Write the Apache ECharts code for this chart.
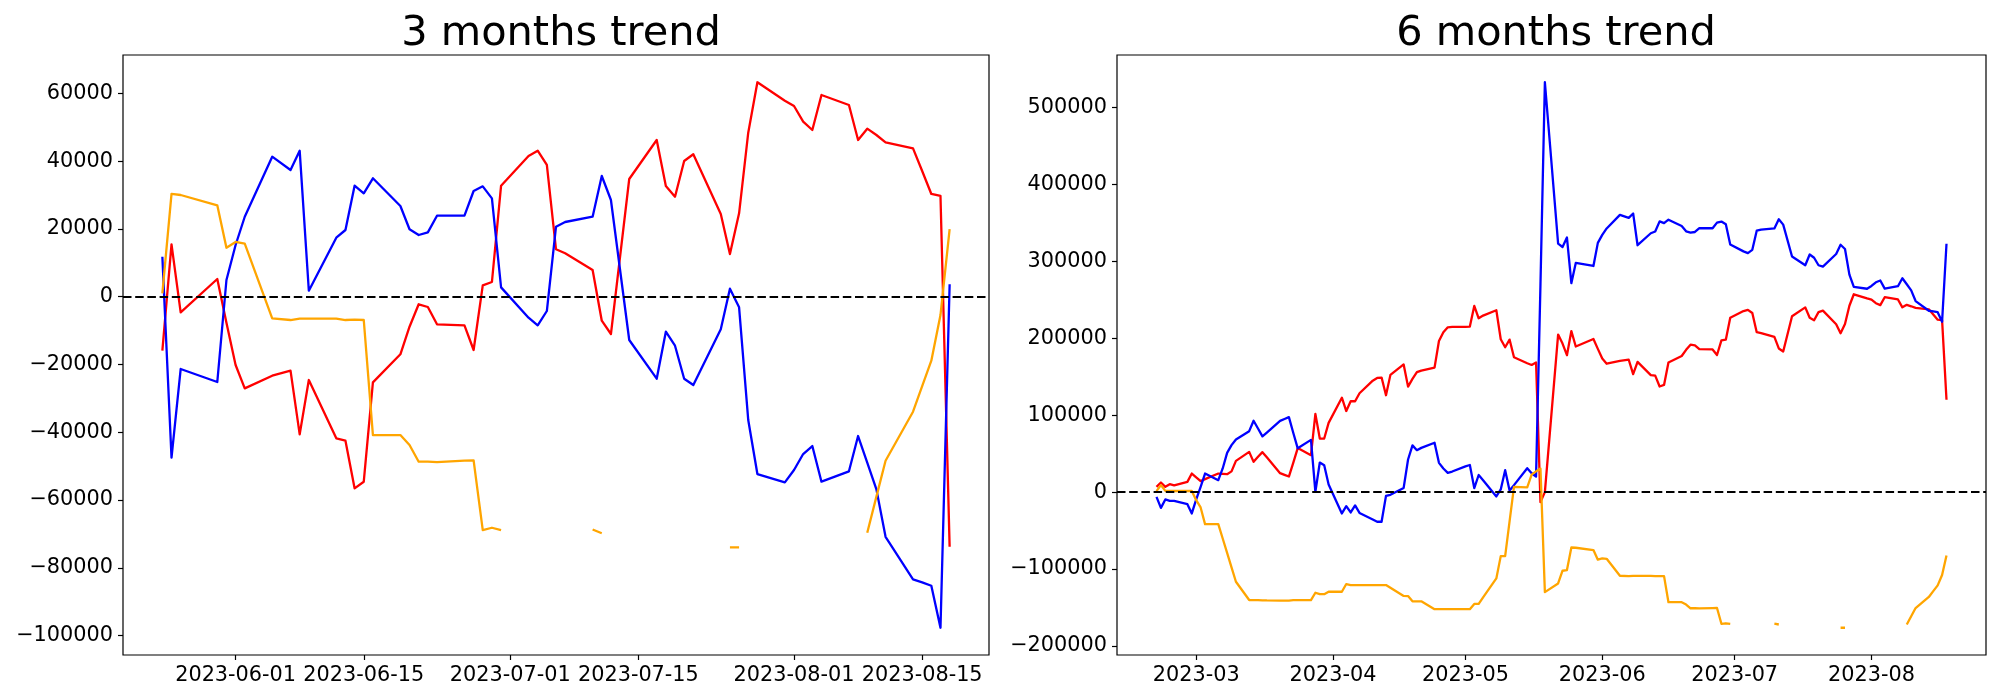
<!DOCTYPE html>
<html><head><meta charset="utf-8">
<script src="https://cdn.jsdelivr.net/npm/echarts@6/dist/echarts.min.js"></script>
<style>html,body{margin:0;padding:0;background:#fff}#c{width:2000px;height:700px}</style>
</head><body><div id="c"></div>
<script>
// ---------- 3 months trend ----------
const dates3 = ['2023-05-24','2023-05-25','2023-05-26','2023-05-30','2023-05-31','2023-06-01','2023-06-02',
 '2023-06-05','2023-06-07','2023-06-08','2023-06-09','2023-06-12','2023-06-13','2023-06-14','2023-06-15','2023-06-16',
 '2023-06-19','2023-06-20','2023-06-21','2023-06-22','2023-06-23','2023-06-26','2023-06-27','2023-06-28','2023-06-29','2023-06-30',
 '2023-07-03','2023-07-04','2023-07-05','2023-07-06','2023-07-07','2023-07-10','2023-07-11','2023-07-12','2023-07-14',
 '2023-07-17','2023-07-18','2023-07-19','2023-07-20','2023-07-21','2023-07-24','2023-07-25','2023-07-26','2023-07-27','2023-07-28',
 '2023-07-31','2023-08-01','2023-08-02','2023-08-03','2023-08-04','2023-08-07','2023-08-08','2023-08-09','2023-08-10','2023-08-11',
 '2023-08-14','2023-08-15','2023-08-16','2023-08-17','2023-08-18'];
const red3 = [-15940,15460,-4610,5220,-7670,-20160,-27050,
 -23320,-21840,-40620,-24590,-41800,-42510,-56560,-54600,-25270,
 -17000,-8860,-2240,-3040,-8150,-8440,-15730,3360,4340,32770,
 41530,43100,38880,13990,12810,7880,-7080,-11010,34740,
 46260,32680,29520,40060,42040,24410,12600,24620,48410,63290,
 57860,56290,51660,49210,59540,56590,46260,49600,47730,45560,
 43790,37100,30320,29730,-73800];
const blue3 = [11800,-47500,-21340,-25180,4930,15260,23600,
 41330,37400,43100,1770,17420,19690,32770,30500,34950,
 26770,19900,18210,19000,23910,23910,31200,32580,29030,2760,
 -6200,-8460,-4220,20660,22050,23620,35630,28550,-12780,
 -24200,-10330,-14460,-24200,-26070,-9580,2360,-3130,-36400,-52340,
 -54800,-51160,-46440,-44080,-54600,-51540,-41120,-49000,-56860,-70850,
 -83430,-84300,-85300,-97700,3660];
const orange3 = [1000,30320,30020,26980,14460,16150,15650,
 -6380,-6880,-6490,-6490,-6490,-6880,-6780,-6880,-40830,
 -40830,-43780,-48700,-48700,-48800,-48400,-48300,-68870,-68190,-68870,
 null,null,null,null,null,-68700,-69800,null,null,
 null,null,null,null,null,null,-74000,-74000,null,null,
 null,null,null,null,null,null,null,-69660,-59000,-48410,
 -33950,-26360,-18890,-5400,19980];
const xTicks3 = ['2023-06-01','2023-06-15','2023-07-01','2023-07-15','2023-08-01','2023-08-15'];
const yTicks3 = [-100000,-80000,-60000,-40000,-20000,0,20000,40000,60000];

// ---------- 6 months trend ----------
const datesFebMay = ['2023-02-20','2023-02-21','2023-02-22','2023-02-23','2023-02-24',
 '2023-02-27','2023-02-28','2023-03-01','2023-03-02','2023-03-03',
 '2023-03-06','2023-03-07','2023-03-08','2023-03-09','2023-03-10',
 '2023-03-13','2023-03-14','2023-03-15','2023-03-16','2023-03-17',
 '2023-03-20','2023-03-21','2023-03-22','2023-03-23','2023-03-24',
 '2023-03-27','2023-03-28','2023-03-29','2023-03-30','2023-03-31',
 '2023-04-03','2023-04-04','2023-04-05','2023-04-06','2023-04-07',
 '2023-04-10','2023-04-11','2023-04-12','2023-04-13','2023-04-14',
 '2023-04-17','2023-04-18','2023-04-19','2023-04-20','2023-04-21',
 '2023-04-24','2023-04-25','2023-04-26','2023-04-27','2023-04-28',
 '2023-05-01','2023-05-02','2023-05-03','2023-05-04','2023-05-05',
 '2023-05-08','2023-05-09','2023-05-10','2023-05-11','2023-05-12',
 '2023-05-15','2023-05-16','2023-05-17','2023-05-18','2023-05-19',
 '2023-05-22','2023-05-23'];
const dates6 = datesFebMay.concat(dates3);
const red6 = [6900,12600,6900,10400,8700, 13400,24200,19100,14300,16900,
 24200,23800,23400,27000,40700, 52400,39400,46000,52000,45300,
 24700,22500,20300,38500,57300, 48100,101800,69700,69700,90100,
 122800,105500,118200,118200,128600, 145000,148500,149000,126000,152500,
 166100,137200,147300,156000,158100, 162000,196500,208000,214400,214800,
 214800,215300,242100,226100,229600, 236500,198800,188400,198400,175400,
 167600,165400,168600,-13000,0, 204900,193200,
 178100,209500,189400,199200,186300,173800,167000,
 170700,172200,153400,169400,152200,151500,137400,139400,168700,
 177000,185100,191800,191000,185900,185600,178300,197400,198300,226800,
 235500,237100,232900,208000,206800,201900,186900,183000,228700,
 240300,226700,223500,234100,236000,218400,206600,218600,242400,257300,
 251900,250300,245700,243200,253500,250600,240300,243600,241700,239600,
 237800,231100,224300,223700,120200];
const blue6 = [-6100,-20400,-9500,-11300,-11300, -15600,-27700,-9500,6900,24200,
 15600,30800,51100,61100,68500, 79300,92800,82800,72500,77500,
 92700,95200,97500,77000,57000, 68000,400,38500,35100,10000,
 -27700,-18200,-26400,-17300,-27000, -35500,-38500,-38500,-4800,-3500,
 5500,42500,60800,54600,57600, 64300,38100,30700,25100,26800,
 33600,35300,5200,22300,15600, -5600,3500,28600,2100,9100,
 31100,24600,20300,270000,533000, 323100,318800,
 331100,271800,298000,294100,324200,334600,342900,
 360600,356700,362400,321100,336700,339000,352100,349800,354300,
 346100,339200,337500,338300,343200,343200,350500,351900,348300,322100,
 313100,310800,315100,340000,341400,342900,354900,347900,306500,
 295100,309000,304800,295100,293200,309700,321700,316200,282900,267000,
 264500,268100,272900,275200,264700,267800,278200,270300,262400,248500,
 235900,235000,234000,221600,323000];
const orange6 = [1300,9100,1700,1500,1500, 1500,1500,-10400,-19900,-41600,
 -41600,-60300,-79000,-97800,-116500, -140300,-140300,-140300,-140600,-140800,
 -141000,-141000,-141000,-140500,-140300, -140300,-130800,-132700,-132700,-129500,
 -129500,-119500,-120800,-120800,-120800, -120800,-120800,-120800,-120800,-124400,
 -135000,-135100,-142000,-142000,-142000, -152200,-152200,-152200,-152200,-152200,
 -152200,-152200,-145400,-145400,-136800, -112200,-83200,-83200,-38000,6900,
 6100,22800,27000,30700,-130000, -118700,-102200,
 -101300,-72000,-72300,-75300,-87800,-86200,-86700,
 -108700,-109200,-108800,-108800,-108800,-109200,-109100,-109200,-143100,
 -143100,-146100,-151000,-151000,-151100,-150700,-150600,-171200,-170500,-171200,
 null,null,null,null,null,-171000,-172100,null,null,
 null,null,null,null,null,null,-176300,-176300,null,null,
 null,null,null,null,null,null,null,-172000,-161300,-150700,
 -136300,-128700,-121200,-107700,-82300];
const xTicks6 = ['2023-03','2023-04','2023-05','2023-06','2023-07','2023-08'];
const yTicks6 = [-200000,-100000,0,100000,200000,300000,400000,500000];

// ---------- build ----------
const DAY = 86400000;
const ts = s => Date.parse(s + 'T00:00:00Z');
const FONT = 'DejaVu Sans';
const pairs = (dates, vals) => dates.map((d, i) => [ts(d), vals[i] === null ? '-' : vals[i]]);
const yFmt = v => (v < 0 ? '\u2212' : '') + Math.abs(v);

function span(dates) {
  const a = ts(dates[0]), b = ts(dates[dates.length - 1]);
  const m = (b - a) * 0.05;
  return [a - m, b + m];
}
function yspan(arrs) {
  let lo = Infinity, hi = -Infinity;
  arrs.forEach(a => a.forEach(v => { if (v !== null) { lo = Math.min(lo, v); hi = Math.max(hi, v); } }));
  const m = (hi - lo) * 0.05;
  return [lo - m, hi + m];
}
const xs3 = span(dates3), xs6 = span(dates6);
const ys3 = yspan([red3, blue3, orange3]), ys6 = yspan([red6, blue6, orange6]);

const tickStyle = { show: true, inside: false, length: 5, lineStyle: { color: '#000', width: 1.2 } };
const labelBase = { color: '#000', fontSize: 20.8, fontFamily: FONT };

function xAxis(idx, rng, ticks, fmt) {
  return {
    type: 'value', gridIndex: idx, min: rng[0], max: rng[1], position: 'bottom',
    axisLine: { show: false, onZero: false }, splitLine: { show: false },
    axisTick: Object.assign({ customValues: ticks }, tickStyle),
    axisLabel: Object.assign({ customValues: ticks, margin: 10, formatter: fmt }, labelBase)
  };
}
function yAxis(idx, rng, ticks) {
  return {
    type: 'value', gridIndex: idx, min: rng[0], max: rng[1], position: 'left',
    axisLine: { show: false, onZero: false }, splitLine: { show: false },
    axisTick: Object.assign({ customValues: ticks }, tickStyle),
    axisLabel: Object.assign({ customValues: ticks, margin: 10, formatter: yFmt }, labelBase)
  };
}
function line(idx, data, color, withZero) {
  const s = {
    type: 'line', xAxisIndex: idx, yAxisIndex: idx, data: data,
    showSymbol: false, symbol: 'none', connectNulls: false, silent: true,
    lineStyle: { color: color, width: 2.3, join: 'round' }, itemStyle: { color: color }
  };
  if (withZero) {
    s.markLine = {
      silent: true, symbol: 'none', label: { show: false },
      lineStyle: { color: '#000', type: [8.5, 3.7], width: 2.2 },
      data: [{ yAxis: 0 }]
    };
  }
  return s;
}

const option = {
  animation: false,
  backgroundColor: '#fff',
  title: [
    { text: '3 months trend', left: 556, top: 8, textAlign: 'center',
      textStyle: { fontSize: 41.5, fontWeight: 'normal', color: '#000', fontFamily: FONT } },
    { text: '6 months trend', left: 1551, top: 8, textAlign: 'center',
      textStyle: { fontSize: 41.5, fontWeight: 'normal', color: '#000', fontFamily: FONT } }
  ],
  grid: [
    { left: 123, top: 55, width: 866, height: 600, show: true, borderColor: '#000', borderWidth: 1.2, backgroundColor: 'transparent' },
    { left: 1117, top: 55, width: 869, height: 600, show: true, borderColor: '#000', borderWidth: 1.2, backgroundColor: 'transparent' }
  ],
  xAxis: [
    xAxis(0, xs3, xTicks3.map(ts), v => new Date(v).toISOString().slice(0, 10)),
    xAxis(1, xs6, xTicks6.map(s => ts(s + '-01')), v => new Date(v).toISOString().slice(0, 7))
  ],
  yAxis: [yAxis(0, ys3, yTicks3), yAxis(1, ys6, yTicks6)],
  series: [
    line(0, pairs(dates3, red3), '#ff0000'),
    line(0, pairs(dates3, blue3), '#0000ff'),
    line(0, pairs(dates3, orange3), '#ffa500', true),
    line(1, pairs(dates6, red6), '#ff0000'),
    line(1, pairs(dates6, blue6), '#0000ff'),
    line(1, pairs(dates6, orange6), '#ffa500', true)
  ]
};
const chart = echarts.init(document.getElementById('c'), null, { renderer: 'canvas' });
chart.setOption(option);
</script></body></html>
